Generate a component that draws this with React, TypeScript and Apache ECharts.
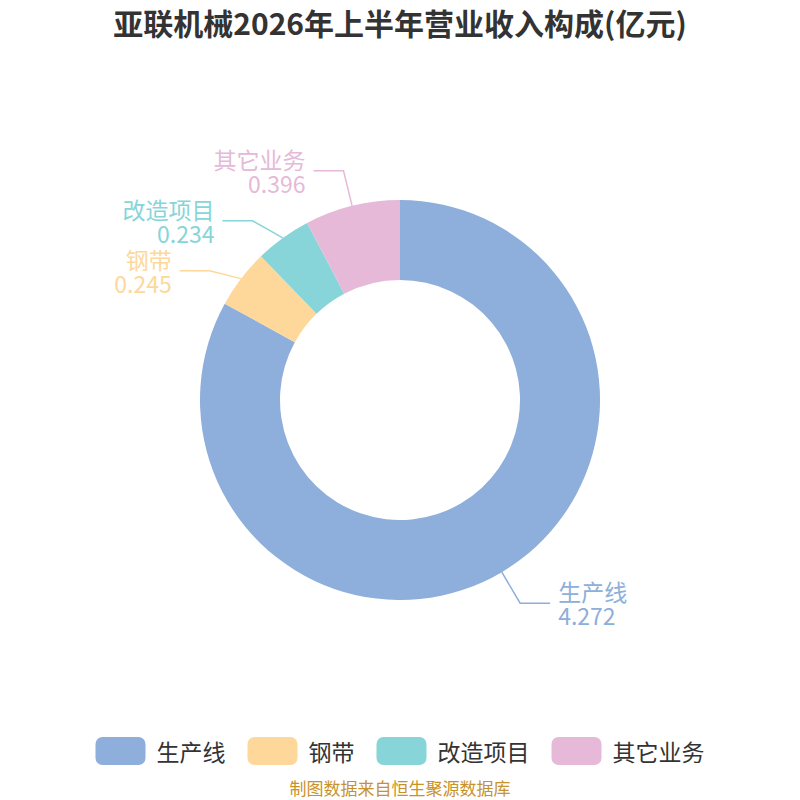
import React, { useEffect, useRef } from 'react';
import * as echarts from 'echarts';

const categories = ['生产线', '钢带', '改造项目', '其它业务'];
const values = [4.272, 0.245, 0.234, 0.396];
const colors = ['#8eaedb', '#fdd89a', '#87d5d8', '#e6b9d8'];

function App() {
  const chartRef = useRef<HTMLDivElement>(null);

  useEffect(() => {
    document.body.style.margin = '0';
    if (!chartRef.current) return undefined;

    const option = {
      animation: false,
      title: {
        text: '亚联机械2026年上半年营业收入构成(亿元)',
        left: 'center',
        top: 2,
        textStyle: {
          color: '#333333',
          fontSize: 30,
          fontWeight: 'bold',
          fontFamily: 'Noto Sans CJK SC',
        },
      },
      legend: {
        bottom: 30,
        left: 'center',
        itemWidth: 50,
        itemHeight: 28,
        itemGap: 22,
        icon: 'roundRect',
        textStyle: {
          fontSize: 23,
          color: '#333333',
          fontFamily: 'Noto Sans CJK SC',
          padding: [0, 0, 0, 6],
        },
        data: categories,
      },
      graphic: [
        {
          type: 'text',
          left: 'center',
          top: 779,
          style: {
            text: '制图数据来自恒生聚源数据库',
            fill: '#c8922a',
            fontSize: 17,
            fontFamily: 'Noto Sans CJK SC',
          },
        },
      ],
      series: [
        {
          type: 'pie',
          radius: ['30%', '50%'],
          center: ['50%', '50%'],
          startAngle: 90,
          color: colors,
          data: categories.map((name, i) => ({ name, value: values[i] })),
          label: {
            show: true,
            formatter: '{b}\n{c}',
            fontSize: 23,
            lineHeight: 24,
            fontFamily: 'Noto Sans CJK SC',
            color: 'inherit',
            distanceToLabelLine: 8,
          },
          labelLine: {
            show: true,
            length: 36,
            length2: 30,
            lineStyle: { width: 1.5 },
          },
        },
      ],
    };

    const myChart = echarts.init(chartRef.current, null, { renderer: 'svg' });
    myChart.setOption(option);

    return () => {
      myChart.dispose();
    };
  }, []);

  return <div ref={chartRef} style={{ width: '800px', height: '800px' }} />;
}

export default App;
